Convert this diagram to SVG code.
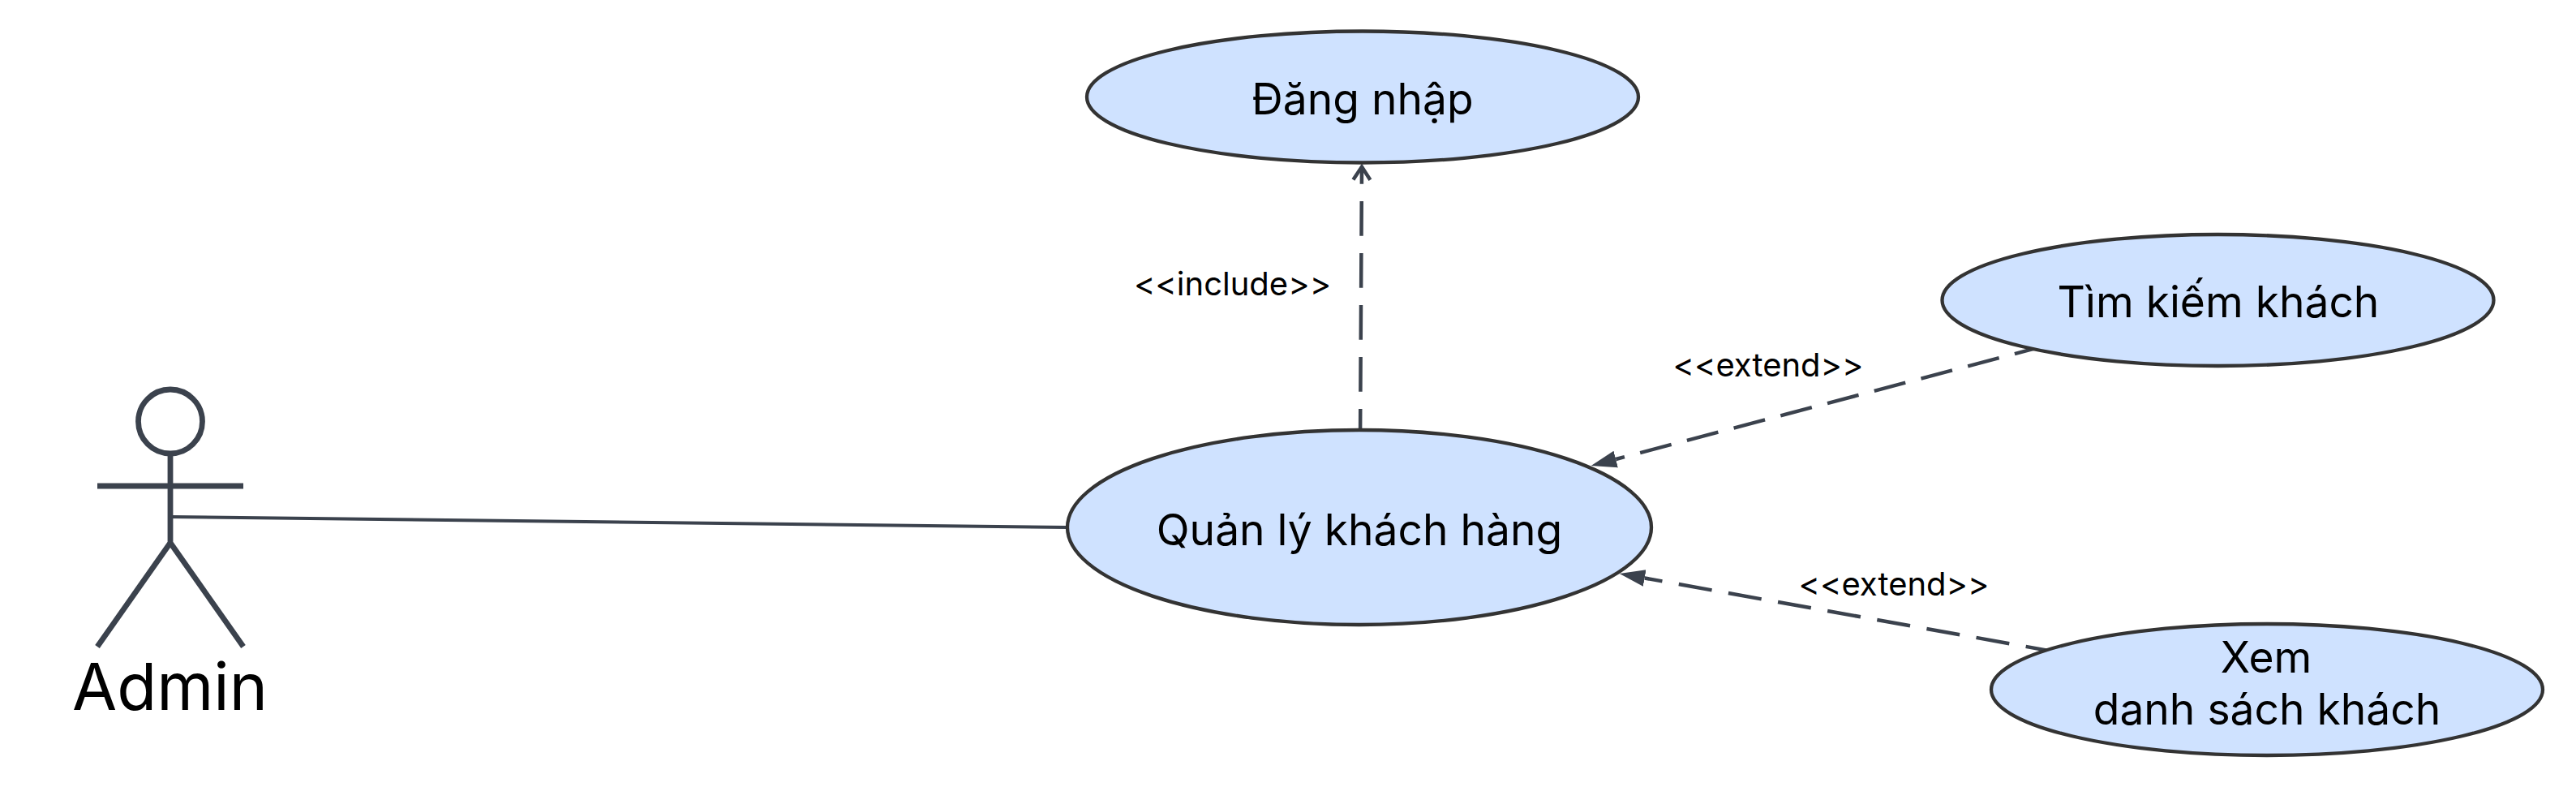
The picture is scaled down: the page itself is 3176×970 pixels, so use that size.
<svg xmlns="http://www.w3.org/2000/svg" width="3176" height="970" viewBox="0 0 3176 970">
<style>
text{font-family:Inter,"Liberation Sans",sans-serif;fill:#000;text-anchor:middle}
.uc{fill:#cfe2ff;stroke:#333;stroke-width:4.300}
.t{font-size:53.330px}
.l{font-size:40px}
.a{fill:none;stroke:#3b424d;stroke-width:6.800}
.c{fill:none;stroke:#3b424d;stroke-width:4}
.d{stroke-width:4.500}
</style>
<defs>
<marker id="open" markerUnits="userSpaceOnUse" markerWidth="44" markerHeight="32" viewBox="-30 -16 44 32" refX="0" refY="0" orient="auto"><path d="M-16 -10.500 0 0-16 10.500" fill="none" stroke="#3b424d" stroke-width="4.500"/></marker>
<marker id="solid" markerUnits="userSpaceOnUse" markerWidth="36" markerHeight="26" viewBox="0 -13 36 26" refX="0" refY="0" orient="auto"><path d="M0 -10.500 31.500 0 0 10.500z" fill="#3b424d"/></marker>
</defs>
<rect width="3176" height="970" fill="#fff"/>
<g id="connectors">
<path class="c" d="M210 637 1316 650"/>
<path class="c d" stroke-dasharray="42.700 21.300" d="M1677 546.700 1679 205.600" marker-end="url(#open)"/>
<path class="c d" stroke-dasharray="39.800 19.900" d="M2522.400 425.900 1992.200 566" marker-end="url(#solid)"/>
<path class="c d" stroke-dasharray="41.400 20.700" d="M2538.400 804.200 2027.700 712.500" marker-end="url(#solid)"/>
</g>
<g id="actor-admin">
<circle class="a" cx="210" cy="519.500" r="39.500"/>
<path class="a" d="M210 559V669M120 599H300M120 797 210 669 300 797"/>
<text x="209.500" y="875" style="font-size:80px">Admin</text>
</g>
<g id="uc-dangnhap"><ellipse class="uc" cx="1680" cy="119.500" rx="340" ry="81"/><text class="t" x="1680" y="141">Đăng nhập</text></g>
<g id="uc-quanly"><ellipse class="uc" cx="1676" cy="650" rx="360" ry="120"/><text class="t" x="1676" y="671.500">Quản lý khách hàng</text></g>
<g id="uc-timkiem"><ellipse class="uc" cx="2734.500" cy="370" rx="340" ry="81"/><text class="t" x="2735" y="391">Tìm kiếm khách</text></g>
<g id="uc-xem"><ellipse class="uc" cx="2795" cy="850" rx="340" ry="81"/><text class="t" x="2794" y="829">Xem</text><text class="t" x="2795" y="893">danh sách khách</text></g>
<g id="labels">
<text class="l" x="1519.500" y="364">&lt;&lt;include&gt;&gt;</text>
<text class="l" x="2180" y="464">&lt;&lt;extend&gt;&gt;</text>
<text class="l" x="2335" y="734">&lt;&lt;extend&gt;&gt;</text>
</g>
</svg>
